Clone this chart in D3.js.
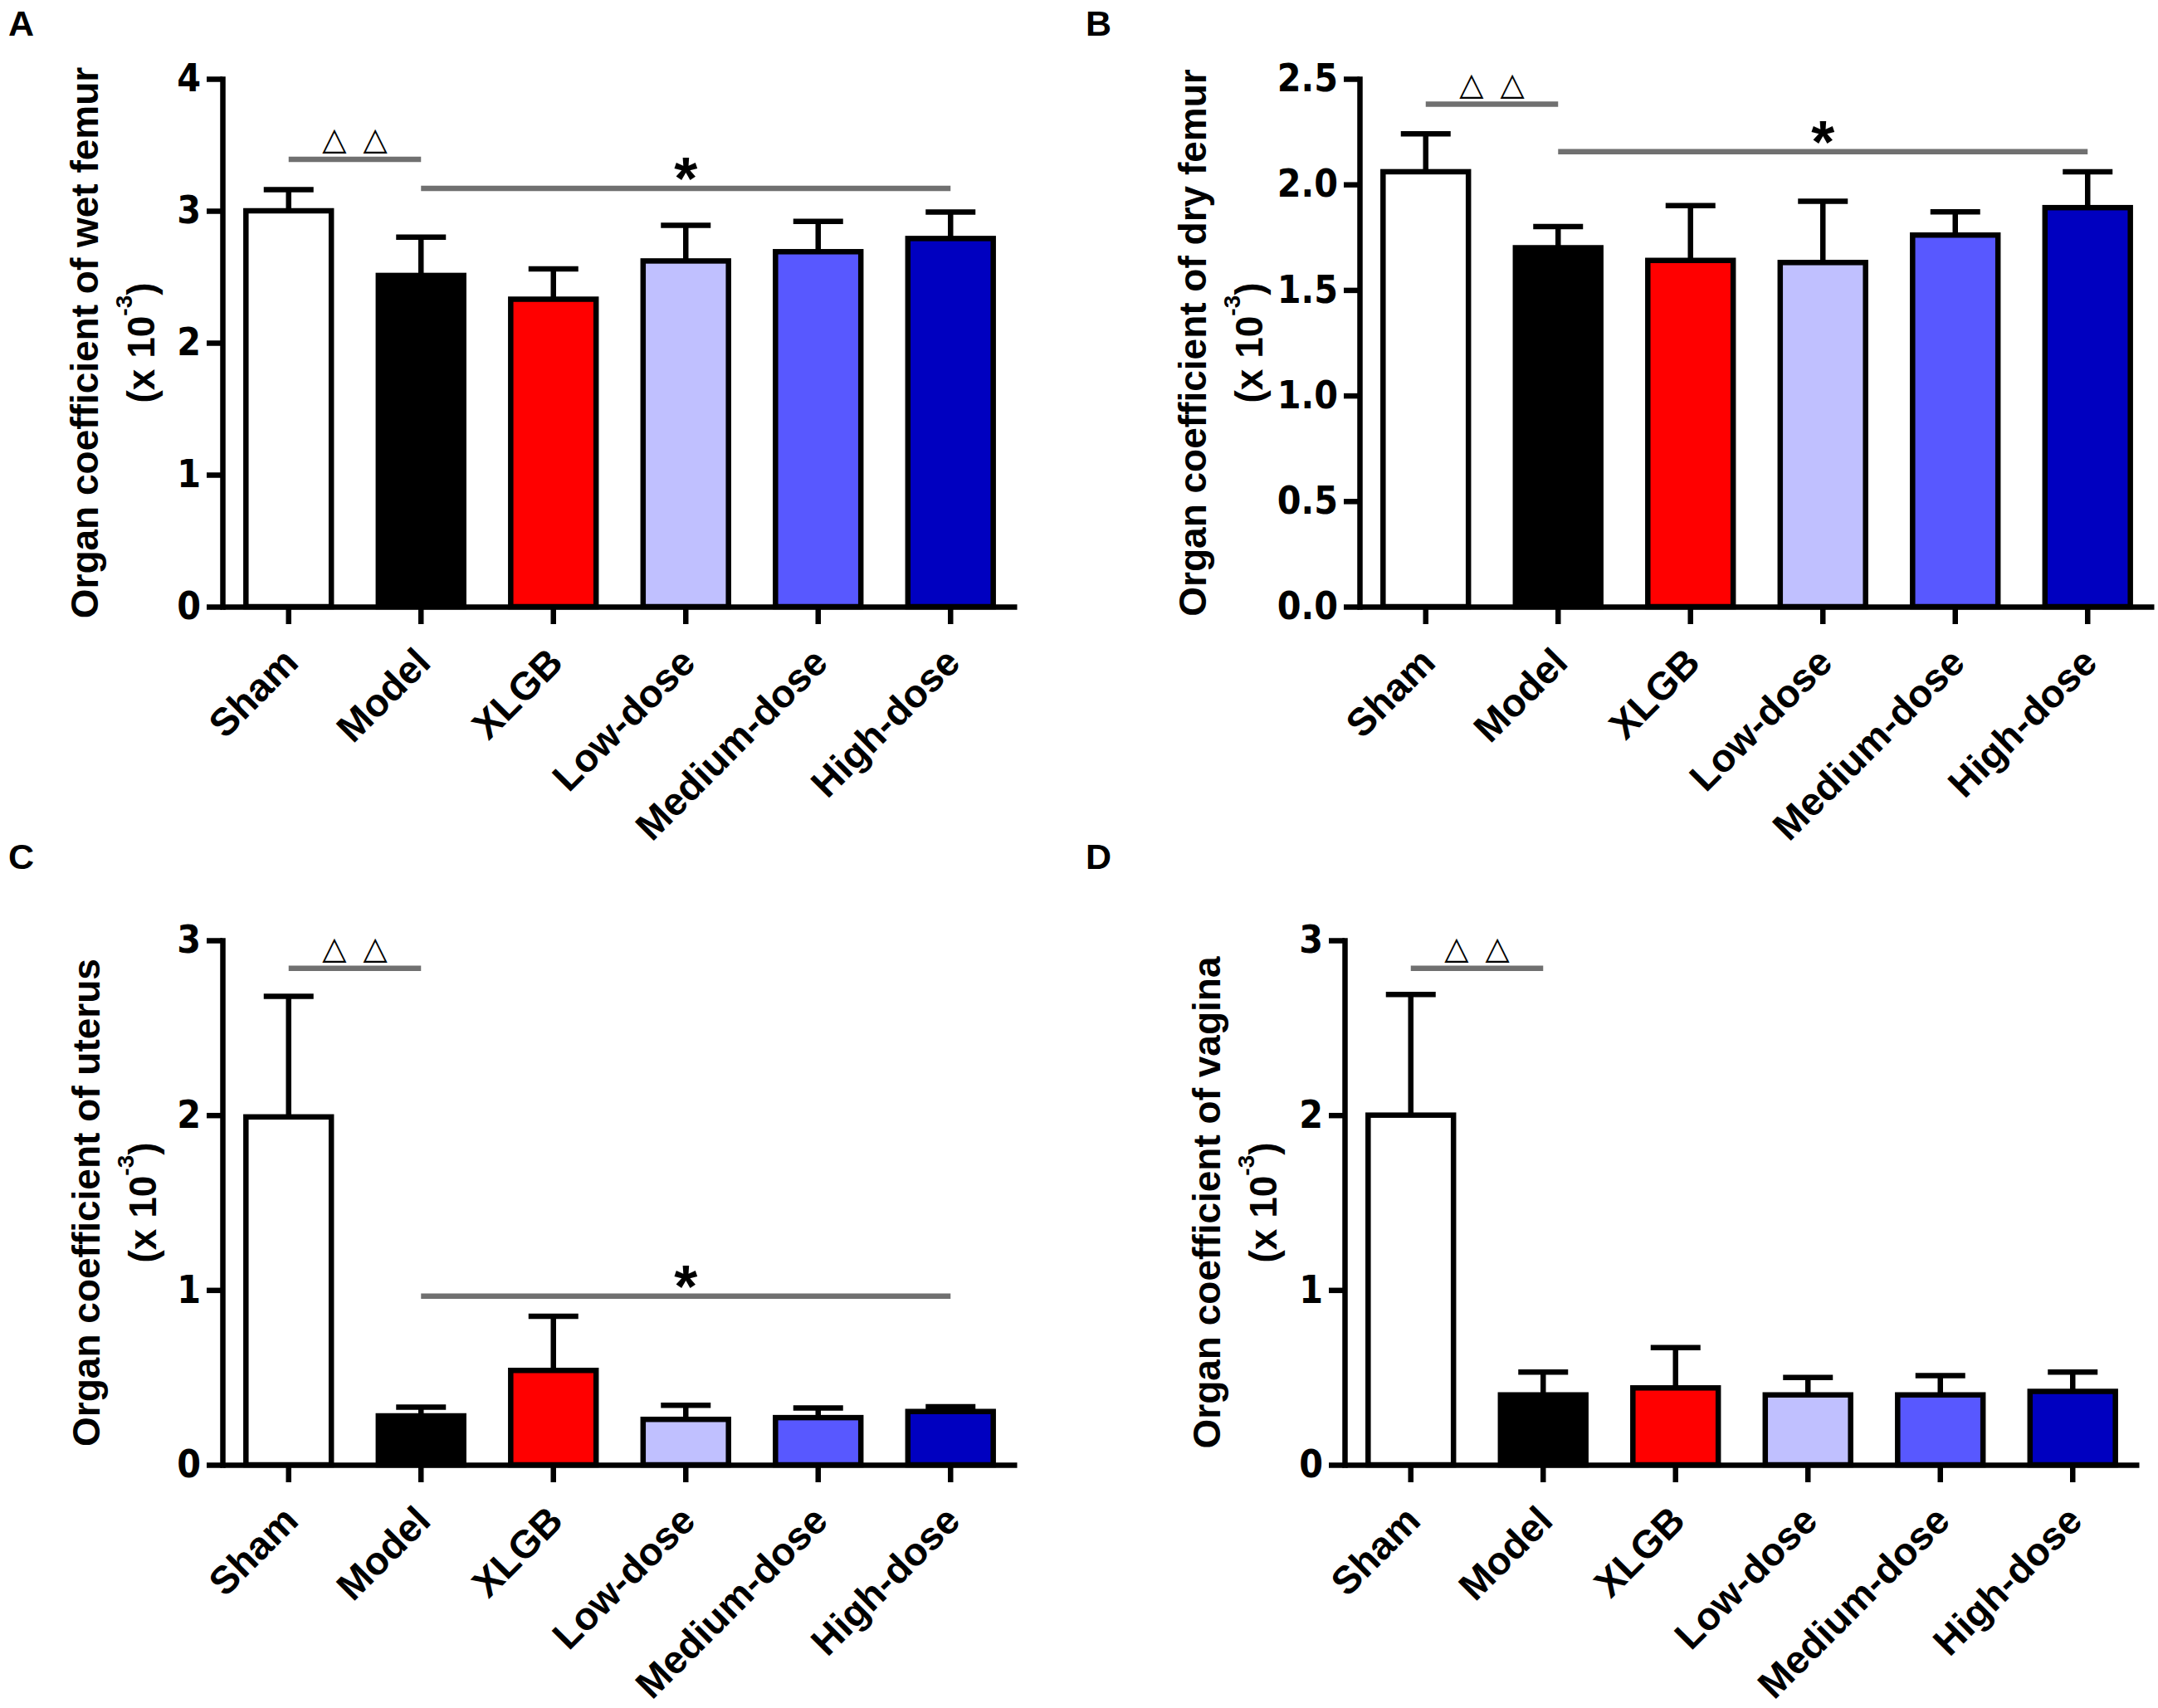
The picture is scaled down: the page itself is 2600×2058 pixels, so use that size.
<!DOCTYPE html>
<html>
<head>
<meta charset="utf-8">
<script src="https://cdn.jsdelivr.net/npm/d3@7"></script>
<style>
body { margin: 0; background: #fff; }
svg { display: block; }
</style>
</head>
<body>
<svg id="chart" width="2600" height="2058"></svg>
<script>
// groups along every x axis
var groups = ['Sham', 'Model', 'XLGB', 'Low-dose', 'Medium-dose', 'High-dose'];

// A - wet femur (mean and upper error, x 10^-3)
var wetFemurMean = [3.00, 2.51, 2.33, 2.62, 2.69, 2.79];
var wetFemurSem = [0.16, 0.29, 0.23, 0.27, 0.23, 0.20];
var wetFemurTicks = [0, 1, 2, 3, 4];
var wetFemurSig = [['Sham', 'Model', 3.39, '△ △'], ['Model', 'High-dose', 3.17, '*']];

// B - dry femur
var dryFemurMean = [2.06, 1.70, 1.64, 1.63, 1.76, 1.89];
var dryFemurSem = [0.18, 0.10, 0.26, 0.29, 0.11, 0.17];
var dryFemurTicks = [0, 0.5, 1.0, 1.5, 2.0, 2.5];
var dryFemurSig = [['Sham', 'Model', 2.38, '△ △'], ['Model', 'High-dose', 2.155, '*']];

// C - uterus
var uterusMean = [1.99, 0.28, 0.54, 0.26, 0.27, 0.305];
var uterusSem = [0.69, 0.05, 0.31, 0.08, 0.055, 0.027];
var uterusTicks = [0, 1, 2, 3];
var uterusSig = [['Sham', 'Model', 2.84, '△ △'], ['Model', 'High-dose', 0.965, '*']];

// D - vagina
var vaginaMean = [2.00, 0.40, 0.44, 0.40, 0.40, 0.42];
var vaginaSem = [0.69, 0.13, 0.23, 0.10, 0.11, 0.11];
var vaginaTicks = [0, 1, 2, 3];
var vaginaSig = [['Sham', 'Model', 2.84, '△ △']];

var barColors = ['#ffffff', '#000000', '#ff0000', '#c0c0ff', '#5858ff', '#0000c0'];

var svg = d3.select('#chart');
var LW = 6.5;
var boldFont = '"Liberation Sans", Arial, sans-serif';
var narrowFont = '"Liberation Sans Narrow", "Arial Narrow", "DejaVu Sans Condensed", sans-serif';

var panels = [
    { letter: 'A', lx: 10, ly: 43, axisX: 268, top: 95, bottom: 731, titleX: 118,
      title: 'Organ coefficient of wet femur', mean: wetFemurMean, sem: wetFemurSem,
      ticks: wetFemurTicks, fmt: d3.format('d'), sig: wetFemurSig },
    { letter: 'B', lx: 1308, ly: 43, axisX: 1638, top: 95, bottom: 731, titleX: 1453,
      title: 'Organ coefficient of dry femur', mean: dryFemurMean, sem: dryFemurSem,
      ticks: dryFemurTicks, fmt: d3.format('.1f'), sig: dryFemurSig },
    { letter: 'C', lx: 10, ly: 1047, axisX: 268, top: 1133, bottom: 1765, titleX: 120,
      title: 'Organ coefficient of uterus', mean: uterusMean, sem: uterusSem,
      ticks: uterusTicks, fmt: d3.format('d'), sig: uterusSig },
    { letter: 'D', lx: 1308, ly: 1047, axisX: 1620, top: 1133, bottom: 1765, titleX: 1470,
      title: 'Organ coefficient of vagina', mean: vaginaMean, sem: vaginaSem,
      ticks: vaginaTicks, fmt: d3.format('d'), sig: vaginaSig }
];

panels.forEach(drawPanel);

function drawPanel(p) {
    var g = svg.append('g');

    var y = d3.scaleLinear()
        .domain([0, p.ticks[p.ticks.length - 1]])
        .range([p.bottom, p.top]);
    var x = d3.scaleBand()
        .domain(groups)
        .range([p.axisX, p.axisX + groups.length * 159.5])
        .paddingInner(0.355)
        .paddingOuter(0.1775);
    var bw = x.bandwidth();

    var rows = groups.map(function(name, i) {
        return { name: name, mean: p.mean[i], sem: p.sem[i], color: barColors[i] };
    });

    // error bars (upper only)
    var err = g.selectAll('.err').data(rows).enter().append('g').attr('class', 'err');
    err.append('line')
        .attr('x1', d => x(d.name) + bw / 2)
        .attr('x2', d => x(d.name) + bw / 2)
        .attr('y1', d => y(d.mean))
        .attr('y2', d => y(d.mean + d.sem))
        .attr('stroke', '#000')
        .attr('stroke-width', LW);
    err.append('line')
        .attr('x1', d => x(d.name) + bw / 2 - 30)
        .attr('x2', d => x(d.name) + bw / 2 + 30)
        .attr('y1', d => y(d.mean + d.sem))
        .attr('y2', d => y(d.mean + d.sem))
        .attr('stroke', '#000')
        .attr('stroke-width', LW);

    // bars
    g.selectAll('.bar').data(rows).enter().append('rect')
        .attr('class', 'bar')
        .attr('x', d => x(d.name))
        .attr('y', d => y(d.mean))
        .attr('width', bw)
        .attr('height', d => y(0) - y(d.mean))
        .attr('fill', d => d.color)
        .attr('stroke', '#000')
        .attr('stroke-width', LW);

    // y axis
    var yAxis = g.append('g')
        .attr('transform', `translate(${p.axisX},0)`)
        .call(d3.axisLeft(y).tickValues(p.ticks).tickFormat(p.fmt)
            .tickSize(19).tickSizeOuter(0).tickPadding(7));
    yAxis.select('.domain').attr('stroke-width', LW).attr('stroke-linecap', 'square');
    yAxis.selectAll('.tick line').attr('stroke-width', LW);
    yAxis.selectAll('.tick text')
        .attr('font-family', narrowFont)
        .attr('font-weight', 'bold')
        .attr('font-size', 46)
        .attr('fill', '#000');

    // x axis
    var xAxis = g.append('g')
        .attr('transform', `translate(0,${p.bottom})`)
        .call(d3.axisBottom(x).tickSize(21).tickSizeOuter(0));
    xAxis.select('.domain').attr('stroke-width', LW);
    xAxis.selectAll('.tick line').attr('stroke-width', LW);
    xAxis.selectAll('.tick text')
        .attr('x', 0)
        .attr('y', 0)
        .attr('dy', null)
        .attr('transform', 'translate(14,70) rotate(-45)')
        .attr('text-anchor', 'end')
        .attr('font-family', boldFont)
        .attr('font-weight', 'bold')
        .attr('font-size', 47)
        .attr('fill', '#000');

    // axis title, two lines
    var mid = (p.top + p.bottom) / 2;
    svg.append('text')
        .attr('transform', `translate(${p.titleX},${mid}) rotate(-90)`)
        .attr('text-anchor', 'middle')
        .attr('font-family', boldFont)
        .attr('font-weight', 'bold')
        .attr('font-size', 46)
        .text(p.title);
    var t2 = svg.append('text')
        .attr('transform', `translate(${p.titleX + 68},${mid}) rotate(-90)`)
        .attr('text-anchor', 'middle')
        .attr('font-family', boldFont)
        .attr('font-weight', 'bold')
        .attr('font-size', 46);
    t2.append('tspan').text('(x 10');
    t2.append('tspan').attr('dy', -27).attr('font-size', 28).text('-3');
    t2.append('tspan').attr('dy', 27).text(')');

    // significance lines
    p.sig.forEach(function(s) {
        var x1 = x(s[0]) + bw / 2;
        var x2 = x(s[1]) + bw / 2;
        var yy = y(s[2]);
        g.append('line')
            .attr('x1', x1).attr('x2', x2)
            .attr('y1', yy).attr('y2', yy)
            .attr('stroke', '#707070')
            .attr('stroke-width', LW);
        if (s[3] === '*') {
            g.append('text')
                .attr('x', (x1 + x2) / 2)
                .attr('y', yy + 13)
                .attr('text-anchor', 'middle')
                .attr('font-family', boldFont)
                .attr('font-weight', 'bold')
                .attr('font-size', 72)
                .text(s[3]);
        } else {
            g.append('text')
                .attr('x', (x1 + x2) / 2)
                .attr('y', yy - 12)
                .attr('text-anchor', 'middle')
                .attr('font-family', '"DejaVu Sans", sans-serif')
                .attr('font-size', 38)
                .attr('word-spacing', 8)
                .text(s[3]);
        }
    });

    // panel letter
    svg.append('text')
        .attr('x', p.lx)
        .attr('y', p.ly)
        .attr('font-family', boldFont)
        .attr('font-weight', 'bold')
        .attr('font-size', 43)
        .text(p.letter);
}
</script>
</body>
</html>
